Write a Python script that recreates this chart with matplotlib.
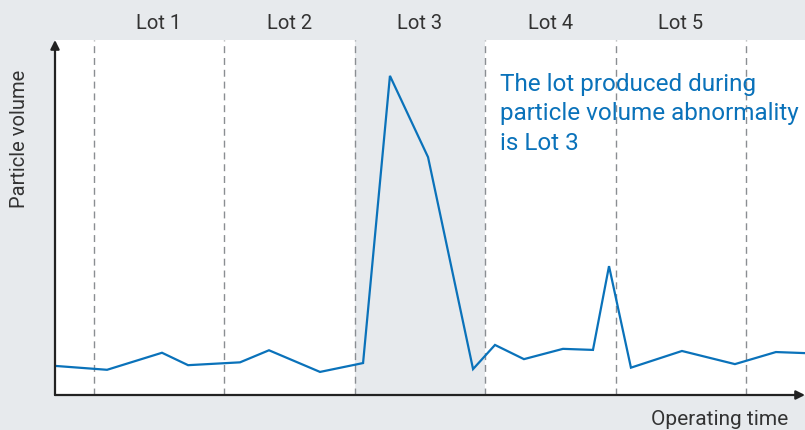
import matplotlib
matplotlib.use("Agg")
import matplotlib.pyplot as plt

plt.rcParams['font.family'] = ['Roboto', 'DejaVu Sans']

# Data (time in lot units; lot boundaries at 1..6)
time = [0.703, 1.102, 1.523, 1.723, 2.121, 2.343, 2.734, 3.064, 3.270, 3.562,
        3.907, 4.075, 4.297, 4.596, 4.826, 4.949, 5.117, 5.508, 5.914, 6.228, 6.451]
volume = [8.2, 7.1, 11.9, 8.4, 9.2, 12.6, 6.5, 9.0, 89.9, 67.0,
          7.3, 14.1, 10.1, 13.0, 12.7, 36.3, 7.7, 12.4, 8.7, 12.1, 11.8]
lot_bounds = [1, 2, 3, 4, 5, 6]
lot_labels = ["Lot 1", "Lot 2", "Lot 3", "Lot 4", "Lot 5"]
abnormal_lot = 3

W, H = 805, 430
bg = '#e7eaed'
blue = '#0a72ba'
fig = plt.figure(figsize=(W/100, H/100), dpi=100, facecolor=bg)
ax = fig.add_axes([55/W, 35/H, (W-55)/W, (395-40)/H])
ax.set_facecolor('white')
ax.set_xlim(0.703, 6.451)
ax.set_ylim(0, 100)

# shaded abnormal lot
ax.axvspan(lot_bounds[abnormal_lot-1], lot_bounds[abnormal_lot], color=bg, zorder=0, lw=0)

for b in lot_bounds:
    ax.axvline(b, color='#8a8e92', lw=1, ls=(0, (5, 3.5)), zorder=1)

ax.plot(time, volume, color=blue, lw=1.6, zorder=3, solid_joinstyle='miter')

for sp in ax.spines.values():
    sp.set_visible(False)
ax.set_xticks([])
ax.set_yticks([])

# axis arrows
ax.annotate('', xy=(0, 1.0), xytext=(0, 0), xycoords='axes fraction',
            arrowprops=dict(arrowstyle='-|>', color='#222222', lw=1.6,
                            mutation_scale=13, shrinkA=0, shrinkB=0), annotation_clip=False)
ax.annotate('', xy=(1.0, 0), xytext=(0, 0), xycoords='axes fraction',
            arrowprops=dict(arrowstyle='-|>', color='#222222', lw=1.6,
                            mutation_scale=13, shrinkA=0, shrinkB=0), annotation_clip=False)

# lot labels
for i, lab in enumerate(lot_labels):
    xc = (lot_bounds[i] + lot_bounds[i+1]) / 2
    ax.text(xc, 1 + 11/355, lab, transform=ax.get_xaxis_transform(),
            ha='center', va='baseline', fontsize=14.5, color='#333333')

ax.text(4.113, 90.8, "The lot produced during\nparticle volume abnormality\nis Lot 3",
        ha='left', va='top', fontsize=17.5, color=blue, linespacing=1.37)

fig.text(20/W, 1 - 139/H, "Particle volume", rotation=90, ha='center', va='center',
         fontsize=14.5, color='#333333')
fig.text(788/W, 1 - 425/H, "Operating time", ha='right', va='baseline',
         fontsize=15, color='#333333')

fig.savefig('out.png', dpi=100, facecolor=bg)
